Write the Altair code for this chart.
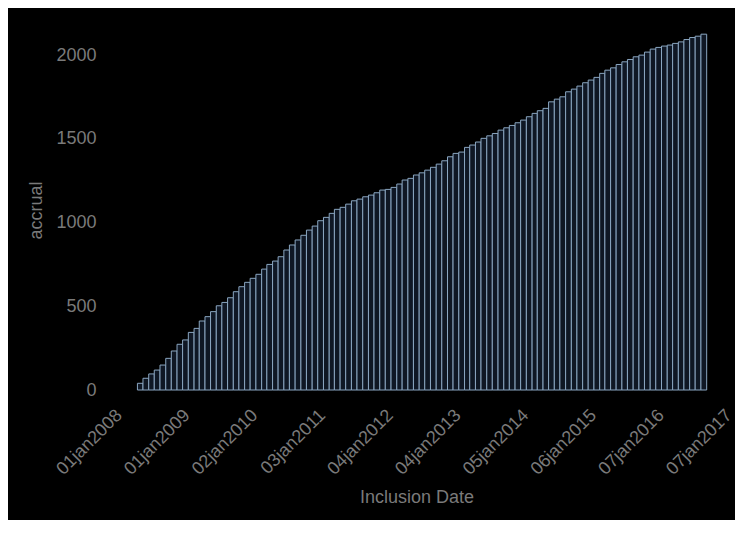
import altair as alt
import pandas as pd

# monthly cumulative accrual, one value per month starting April 2008
first_month = "2008-04-01"
accrual = [
    40, 70, 96, 119, 149, 189, 233, 273, 299, 344, 368, 412, 438,
    468, 503, 523, 551, 587, 617, 643, 667, 691, 722, 750, 770, 796,
    836, 866, 896, 924, 955, 979, 1011, 1031, 1055, 1079, 1091, 1110,
    1130, 1140, 1154, 1164, 1178, 1194, 1198, 1210, 1230, 1254, 1264,
    1284, 1297, 1313, 1330, 1349, 1369, 1393, 1413, 1421,
    1449, 1463, 1481, 1503, 1518, 1532, 1552, 1566, 1580, 1596, 1612,
    1632, 1652, 1668, 1682, 1721, 1737, 1751, 1781, 1797, 1815, 1835,
    1851, 1867, 1891, 1910, 1924, 1944, 1960, 1974, 1990, 2000, 2018,
    2036, 2046, 2054, 2060, 2070, 2079, 2093, 2105, 2113, 2125,
]

# x tick dates (every 366 days)
tick_dates = [
    (2008, 1, 1), (2009, 1, 1), (2010, 1, 2), (2011, 1, 3), (2012, 1, 4),
    (2013, 1, 4), (2014, 1, 5), (2015, 1, 6), (2016, 1, 7), (2017, 1, 7),
]
y_ticks = [0, 500, 1000, 1500, 2000]

starts = pd.date_range(first_month, periods=len(accrual) + 1, freq="MS")
df = pd.DataFrame({
    "start": starts[:-1].strftime("%Y-%m-%dT00:00:00"),
    "end": starts[1:].strftime("%Y-%m-%dT00:00:00"),
    "accrual": accrual,
})

FONT = "Liberation Sans"
GREY = "#7a7a7a"

chart = alt.Chart(df).mark_bar(
    fill="#0f1724", stroke="#8aa6c1", strokeWidth=1
).encode(
    x=alt.X(
        "start:T",
        title="Inclusion Date",
        scale=alt.Scale(
            domain=[alt.DateTime(year=2007, month=9, date=1),
                    alt.DateTime(year=2017, month=2, date=1)],
            nice=False,
        ),
        axis=alt.Axis(
            values=[alt.DateTime(year=y, month=m, date=d) for y, m, d in tick_dates],
            labelExpr="lower(timeFormat(datum.value, '%d%b%Y'))",
            labelAngle=-45,
            labelAlign="right",
            labelBaseline="top",
            labelPadding=16,
            labelOffset=-8,
            titlePadding=10,
        ),
    ),
    x2="end:T",
    y=alt.Y(
        "accrual:Q",
        title="accrual",
        scale=alt.Scale(domain=[0, 2150], nice=False),
        axis=alt.Axis(values=y_ticks, format="d", labelPadding=2, titlePadding=10),
    ),
    y2=alt.datum(0),
).properties(
    width=637,
    height=360,
    autosize=alt.AutoSizeParams(type="none"),
    padding={"left": 90, "top": 22, "right": 0, "bottom": 130},
).configure(
    background="black",
    font=FONT,
).configure_view(
    stroke=None,
).configure_axis(
    grid=False,
    domain=False,
    ticks=False,
    labelColor=GREY,
    titleColor=GREY,
    labelFont=FONT,
    titleFont=FONT,
    labelFontSize=18,
    titleFontSize=18,
    titleFontWeight="normal",
    labelOverlap=False,
)

chart.save("out.html", embed_options={"renderer": "svg", "actions": False})
